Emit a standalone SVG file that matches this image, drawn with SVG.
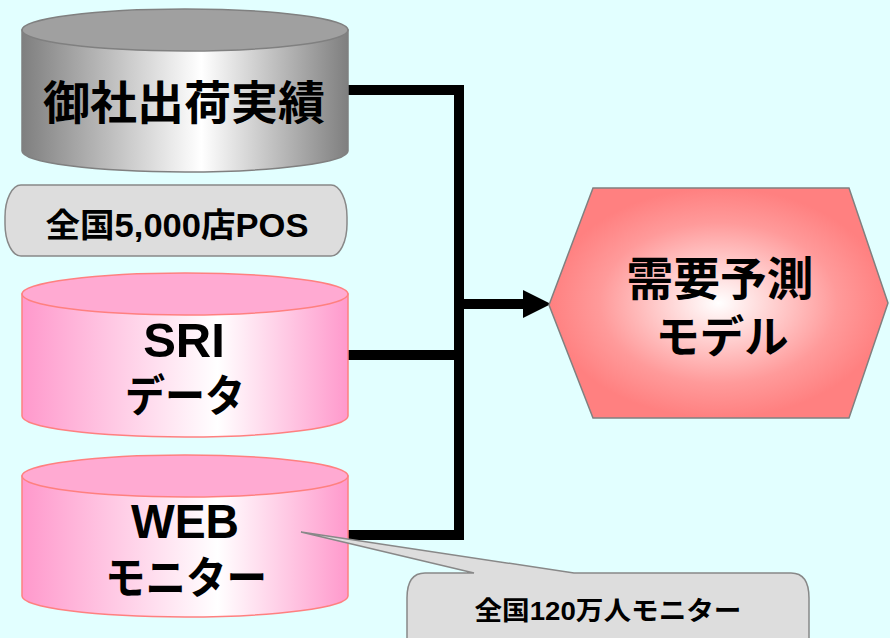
<svg xmlns="http://www.w3.org/2000/svg" width="890" height="638" viewBox="0 0 890 638">
<defs>
<linearGradient id="gGray" x1="0" y1="0" x2="1" y2="0">
<stop offset="0" stop-color="#7f7f7f"/>
<stop offset="0.55" stop-color="#ffffff"/>
<stop offset="1" stop-color="#7f7f7f"/>
</linearGradient>
<linearGradient id="gPink" x1="0" y1="0" x2="1" y2="0">
<stop offset="0" stop-color="#ff99cc"/>
<stop offset="0.6" stop-color="#ffffff"/>
<stop offset="1" stop-color="#ff99cc"/>
</linearGradient>
<radialGradient id="gHex" cx="0.5" cy="0.5" r="0.5">
<stop offset="0" stop-color="#ffffff"/>
<stop offset="0.7" stop-color="#ff9a9a"/>
<stop offset="1" stop-color="#ff8080"/>
</radialGradient>
<marker id="arr" viewBox="0 0 10 10" refX="0" refY="5" markerWidth="3.1" markerHeight="2.8" markerUnits="strokeWidth" orient="auto">
<path d="M0,0 L10,5 L0,10 Z" fill="#000"/>
</marker>
<style>
.t{font-family:"Liberation Sans","Noto Sans CJK JP",sans-serif;font-weight:bold;fill:#000;text-anchor:middle}
.conn{fill:none;stroke:#000;stroke-width:10}
.grayTop{fill:#a0a0a0;stroke:#808080;stroke-width:1.5}
.grayBody{fill:url(#gGray);stroke:#808080;stroke-width:1.5}
.pinkTop{fill:#ffaad2;stroke:#ff8080;stroke-width:1.5}
.pinkBody{fill:url(#gPink);stroke:#ff8080;stroke-width:1.5}
.box{fill:#dddddd;stroke:#888888;stroke-width:1.5}
</style>
</defs>
<rect width="890" height="638" fill="#e2ffff"/>

<g id="connectors">
<path class="conn" d="M348,90 H459 V540"/>
<path class="conn" d="M348,355 H459"/>
<path class="conn" d="M348,535 H459"/>
<path class="conn" d="M454,304 H523" marker-end="url(#arr)"/>
</g>

<g id="node-shipments">
<path class="grayBody" d="M22,30 V151 A163,21 0 0 0 348,151 V30 Z"/>
<ellipse class="grayTop" cx="185" cy="30" rx="163" ry="21"/>
<text class="t" x="184" y="119" font-size="46" textLength="282" lengthAdjust="spacingAndGlyphs">御社出荷実績</text>
</g>

<g id="node-pos">
<rect class="box" x="5" y="185" width="342" height="71" rx="16" ry="32"/>
<text class="t" x="177" y="237" font-size="33" textLength="263" lengthAdjust="spacingAndGlyphs">全国5,000店POS</text>
</g>

<g id="node-sri">
<path class="pinkBody" d="M22,294 V416 A163,21 0 0 0 348,416 V294 Z"/>
<ellipse class="pinkTop" cx="185" cy="294" rx="163" ry="21"/>
<text class="t" x="184" y="357" font-size="49">SRI</text>
<text class="t" x="185" y="412" font-size="44" textLength="120" lengthAdjust="spacingAndGlyphs">データ</text>
</g>

<g id="node-web">
<path class="pinkBody" d="M22,476 V596 A163,21 0 0 0 348,596 V476 Z"/>
<ellipse class="pinkTop" cx="185" cy="476" rx="163" ry="21"/>
<text class="t" x="185" y="538" font-size="48" textLength="108" lengthAdjust="spacingAndGlyphs">WEB</text>
<text class="t" x="186" y="594" font-size="44" textLength="162" lengthAdjust="spacingAndGlyphs">モニター</text>
</g>

<g id="node-callout">
<path class="box" d="M425,573 H474 L301,532 L574,573 H791 Q809,573 809,598 V660 H407 V598 Q407,573 425,573 Z"/>
<text class="t" x="608" y="620" font-size="26" textLength="267" lengthAdjust="spacingAndGlyphs">全国120万人モニター</text>
</g>

<g id="node-model">
<polygon points="593,188 849,188 888,303 849,418 593,418 549,305" fill="url(#gHex)" stroke="#808080" stroke-width="1.5"/>
<text class="t" x="720" y="295" font-size="46" textLength="187" lengthAdjust="spacingAndGlyphs">需要予測</text>
<text class="t" x="722" y="353" font-size="44" textLength="133" lengthAdjust="spacingAndGlyphs">モデル</text>
</g>
</svg>
